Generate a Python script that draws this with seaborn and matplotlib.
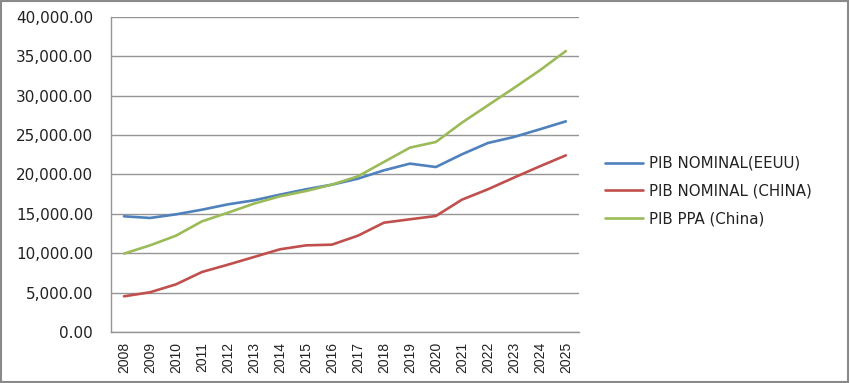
import matplotlib

matplotlib.use("Agg")
import matplotlib.pyplot as plt
import matplotlib.patches as mpatches
from matplotlib.ticker import FixedLocator, FuncFormatter
import pandas as pd
import seaborn as sns

YEARS = [str(y) for y in range(2008, 2026)]
PIB_EEUU = [14.69, 14.48, 14.94, 15.53, 16.21, 16.72, 17.44, 18.12, 18.71,
            19.47, 20.53, 21.38, 20.95, 22.56, 24.00, 24.76, 25.74, 26.75]
PIB_CHINA = [4.53, 5.04, 6.05, 7.62, 8.55, 9.52, 10.50, 11.00, 11.09,
             12.23, 13.88, 14.31, 14.73, 16.80, 18.12, 19.60, 21.04, 22.43]
PIB_PPA_CHINA = [9.95, 11.00, 12.23, 14.05, 15.15, 16.30, 17.23, 17.90, 18.71,
                 19.77, 21.59, 23.41, 24.13, 26.58, 28.78, 30.98, 33.23, 35.68]
SERIES = ["PIB NOMINAL(EEUU)", "PIB NOMINAL (CHINA)", "PIB PPA (China)"]
COLORS = ["#4F81BD", "#C0504D", "#9BBB59"]


def build_frame() -> pd.DataFrame:
    rows = []
    for name, values in zip(SERIES, [PIB_EEUU, PIB_CHINA, PIB_PPA_CHINA]):
        for idx, value in enumerate(values):
            rows.append({"pos": idx, "serie": name, "valor": value * 1000})
    return pd.DataFrame(rows)


def main() -> None:
    sns.set_style("white")
    plt.rcParams["font.family"] = ["DejaVu Sans"]

    df = build_frame()
    fig = plt.figure(figsize=(8.5, 3.83), dpi=100)
    ax = fig.add_axes([0.1306, 0.1332, 0.5504, 0.8224])

    sns.lineplot(
        data=df, x="pos", y="valor", hue="serie", hue_order=SERIES,
        palette=COLORS, linewidth=1.9, ax=ax, legend=True,
    )

    grid_color = "#959595"
    ax.set_ylim(0, 40000)
    ax.set_xlim(-0.5, len(YEARS) - 0.5)
    ax.set_yticks(range(0, 40001, 5000))
    ax.yaxis.set_major_formatter(FuncFormatter(lambda v, _: f"{v:,.2f}"))
    ax.yaxis.grid(True, color=grid_color, linewidth=1.0)
    ax.set_axisbelow(True)

    ax.set_xticks(range(len(YEARS)))
    ax.set_xticklabels(YEARS, rotation=90, fontsize=10, family="Liberation Sans")
    ax.tick_params(axis="x", which="major", length=0, pad=7)
    ax.xaxis.set_minor_locator(FixedLocator([i - 0.5 for i in range(len(YEARS) + 1)]))
    ax.tick_params(axis="x", which="minor", length=5, color=grid_color, width=1)
    ax.tick_params(axis="y", length=5, color=grid_color, width=1,
                   labelsize=11, labelcolor="#222222", pad=8)
    ax.tick_params(axis="x", labelcolor="#222222")

    for side in ["top", "right"]:
        ax.spines[side].set_visible(False)
    for side in ["left", "bottom"]:
        ax.spines[side].set_color(grid_color)
        ax.spines[side].set_linewidth(1.0)

    ax.set_xlabel("")
    ax.set_ylabel("")

    leg = ax.legend(
        loc="center left", bbox_to_anchor=(1.028, 0.447), frameon=False,
        fontsize=10.8, handlelength=2.5, handletextpad=0.4, labelspacing=0.85,
    )
    for text in leg.get_texts():
        text.set_color("#222222")

    fig.patches.append(mpatches.Rectangle(
        (0.001, 0.002), 0.997, 0.995, transform=fig.transFigure,
        fill=False, edgecolor="#8a8a8a", linewidth=1.5,
    ))

    fig.savefig("out.png", dpi=100)
    plt.close(fig)


if __name__ == "__main__":
    main()
